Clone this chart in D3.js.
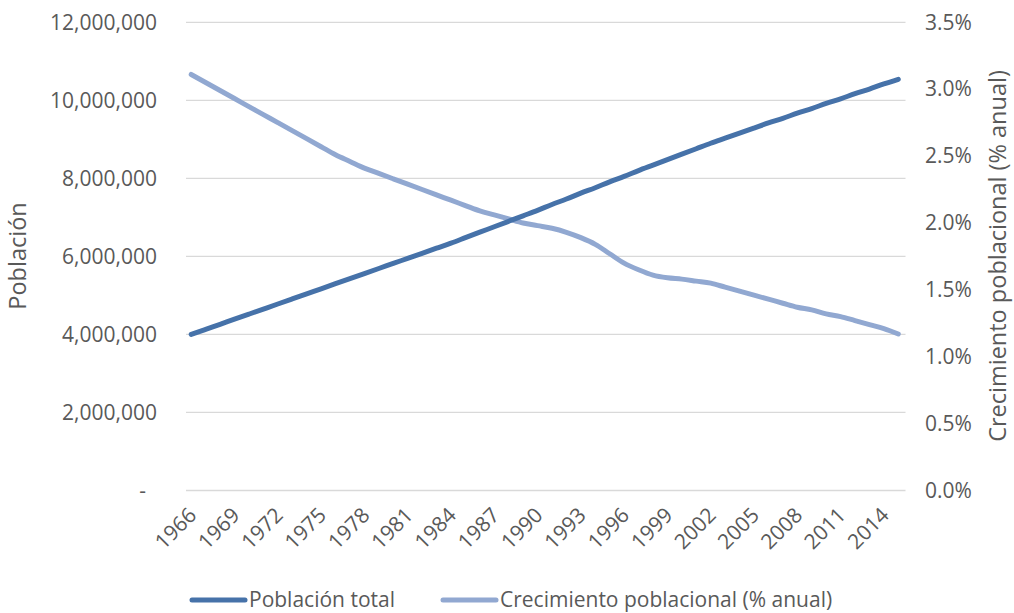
<!DOCTYPE html>
<html>
<head>
<meta charset="utf-8">
<script src="https://cdn.jsdelivr.net/npm/d3@7"></script>
<style>
  html, body { margin: 0; padding: 0; background: #fff; }
  svg { display: block; font-family: "Open Sans", "DejaVu Sans", sans-serif; }
</style>
</head>
<body>
<svg id="chart" width="1014" height="613"></svg>
<script>
// Years 1966–2015
const years = d3.range(1966, 2016);

// Total population (millions of persons)
const poblacionTotal = [
  4.00, 4.13, 4.26, 4.39, 4.52, 4.65, 4.78, 4.91, 5.04, 5.17,
  5.30, 5.43, 5.56, 5.69, 5.82, 5.95, 6.08, 6.21, 6.34, 6.48,
  6.62, 6.76, 6.90, 7.04, 7.18, 7.33, 7.47, 7.62, 7.76, 7.91,
  8.05, 8.20, 8.34, 8.48, 8.62, 8.76, 8.90, 9.03, 9.16, 9.29,
  9.42, 9.54, 9.67, 9.79, 9.92, 10.04, 10.17, 10.29, 10.42, 10.54
].map(v => v * 1e6);

// Annual population growth (%)
const crecimiento = [
  3.11, 3.05, 2.99, 2.93, 2.87, 2.81, 2.75, 2.69, 2.63, 2.57,
  2.51, 2.46, 2.41, 2.37, 2.33, 2.29, 2.25, 2.21, 2.17, 2.13,
  2.09, 2.06, 2.03, 2.00, 1.98, 1.96, 1.93, 1.89, 1.84, 1.77,
  1.70, 1.65, 1.61, 1.59, 1.58, 1.565, 1.55, 1.52, 1.49, 1.46,
  1.43, 1.40, 1.37, 1.35, 1.32, 1.30, 1.27, 1.24, 1.21, 1.17
];

const leftTicks = [0, 2e6, 4e6, 6e6, 8e6, 10e6, 12e6];
const rightTicks = [0, 0.5, 1.0, 1.5, 2.0, 2.5, 3.0, 3.5];
const xTickYears = years.filter((y, i) => i % 3 === 0);

const seriesNames = ["Población total", "Crecimiento poblacional (% anual)"];
const colors = ["#4672a9", "#91a8d1"];
const textColor = "#595959";
const fontSize = 21;
const titleSize = 23.5;

const svg = d3.select("#chart");

const plot = { left: 184, right: 905.5, top: 22.3, bottom: 490.5 };

const x = d3.scalePoint()
  .domain(years)
  .range([plot.left, plot.right])
  .padding(0.5);

const yL = d3.scaleLinear().domain([0, 12e6]).range([plot.bottom, plot.top]);
const yR = d3.scaleLinear().domain([0, 3.5]).range([plot.bottom, plot.top]);

// Gridlines
svg.append("g")
  .selectAll("line")
  .data(leftTicks)
  .join("line")
  .attr("x1", 186).attr("x2", plot.right)
  .attr("y1", d => yL(d)).attr("y2", d => yL(d))
  .attr("stroke", "#d9d9d9").attr("stroke-width", 1.3);

// Left axis
const fmtL = d => d === 0 ? "-" : d3.format(",")(d);
const leftAxis = svg.append("g")
  .attr("transform", `translate(157,0)`)
  .call(d3.axisLeft(yL).tickValues(leftTicks).tickFormat(fmtL).tickSize(0).tickPadding(0));
leftAxis.select(".domain").remove();
leftAxis.selectAll("text")
  .attr("fill", textColor).attr("font-size", fontSize)
  .attr("font-family", "Open Sans, sans-serif")
  .attr("dx", d => d === 0 ? -11 : 0);

// Right axis
const rightAxis = svg.append("g")
  .attr("transform", `translate(925,0)`)
  .call(d3.axisRight(yR).tickValues(rightTicks).tickFormat(d => d3.format(".1f")(d) + "%").tickSize(0).tickPadding(0));
rightAxis.select(".domain").remove();
rightAxis.selectAll("text")
  .attr("fill", textColor).attr("font-size", fontSize)
  .attr("font-family", "Open Sans, sans-serif");

// Bottom axis (rotated year labels)
const bottomAxis = svg.append("g")
  .attr("transform", `translate(0,${plot.bottom})`)
  .call(d3.axisBottom(x).tickValues(xTickYears).tickSize(0).tickPadding(0));
bottomAxis.select(".domain").remove();
bottomAxis.selectAll("text")
  .attr("fill", textColor).attr("font-size", fontSize)
  .attr("font-family", "Open Sans, sans-serif")
  .attr("text-anchor", "end")
  .attr("dy", null)
  .attr("transform", "translate(6,26) rotate(-45)");

// Axis titles
svg.append("text")
  .attr("transform", "translate(26,256) rotate(-90)")
  .attr("text-anchor", "middle")
  .attr("fill", textColor).attr("font-size", titleSize)
  .text("Población");

svg.append("text")
  .attr("transform", "translate(1006,256) rotate(-90)")
  .attr("text-anchor", "middle")
  .attr("fill", textColor).attr("font-size", titleSize)
  .text("Crecimiento poblacional (% anual)");

// Lines
const linePop = d3.line()
  .x((d, i) => x(years[i]))
  .y(d => yL(d))
  .curve(d3.curveMonotoneX);

const lineGrowth = d3.line()
  .x((d, i) => x(years[i]))
  .y(d => yR(d))
  .curve(d3.curveMonotoneX);

svg.append("path")
  .datum(crecimiento)
  .attr("d", lineGrowth)
  .attr("fill", "none")
  .attr("stroke", colors[1]).attr("stroke-width", 5)
  .attr("stroke-linecap", "round").attr("stroke-linejoin", "round");

svg.append("path")
  .datum(poblacionTotal)
  .attr("d", linePop)
  .attr("fill", "none")
  .attr("stroke", colors[0]).attr("stroke-width", 5)
  .attr("stroke-linecap", "round").attr("stroke-linejoin", "round");

// Legend
const legendItems = [
  { name: seriesNames[0], color: colors[0], x: 192 },
  { name: seriesNames[1], color: colors[1], x: 443 }
];
const legend = svg.append("g").selectAll("g")
  .data(legendItems)
  .join("g")
  .attr("transform", d => `translate(${d.x},600)`);
legend.append("line")
  .attr("x1", 0).attr("x2", 53)
  .attr("y1", 0).attr("y2", 0)
  .attr("stroke", d => d.color).attr("stroke-width", 5)
  .attr("stroke-linecap", "round");
legend.append("text")
  .attr("x", 57).attr("y", 0).attr("dy", "0.33em")
  .attr("fill", textColor).attr("font-size", fontSize)
  .text(d => d.name);
</script>
</body>
</html>
